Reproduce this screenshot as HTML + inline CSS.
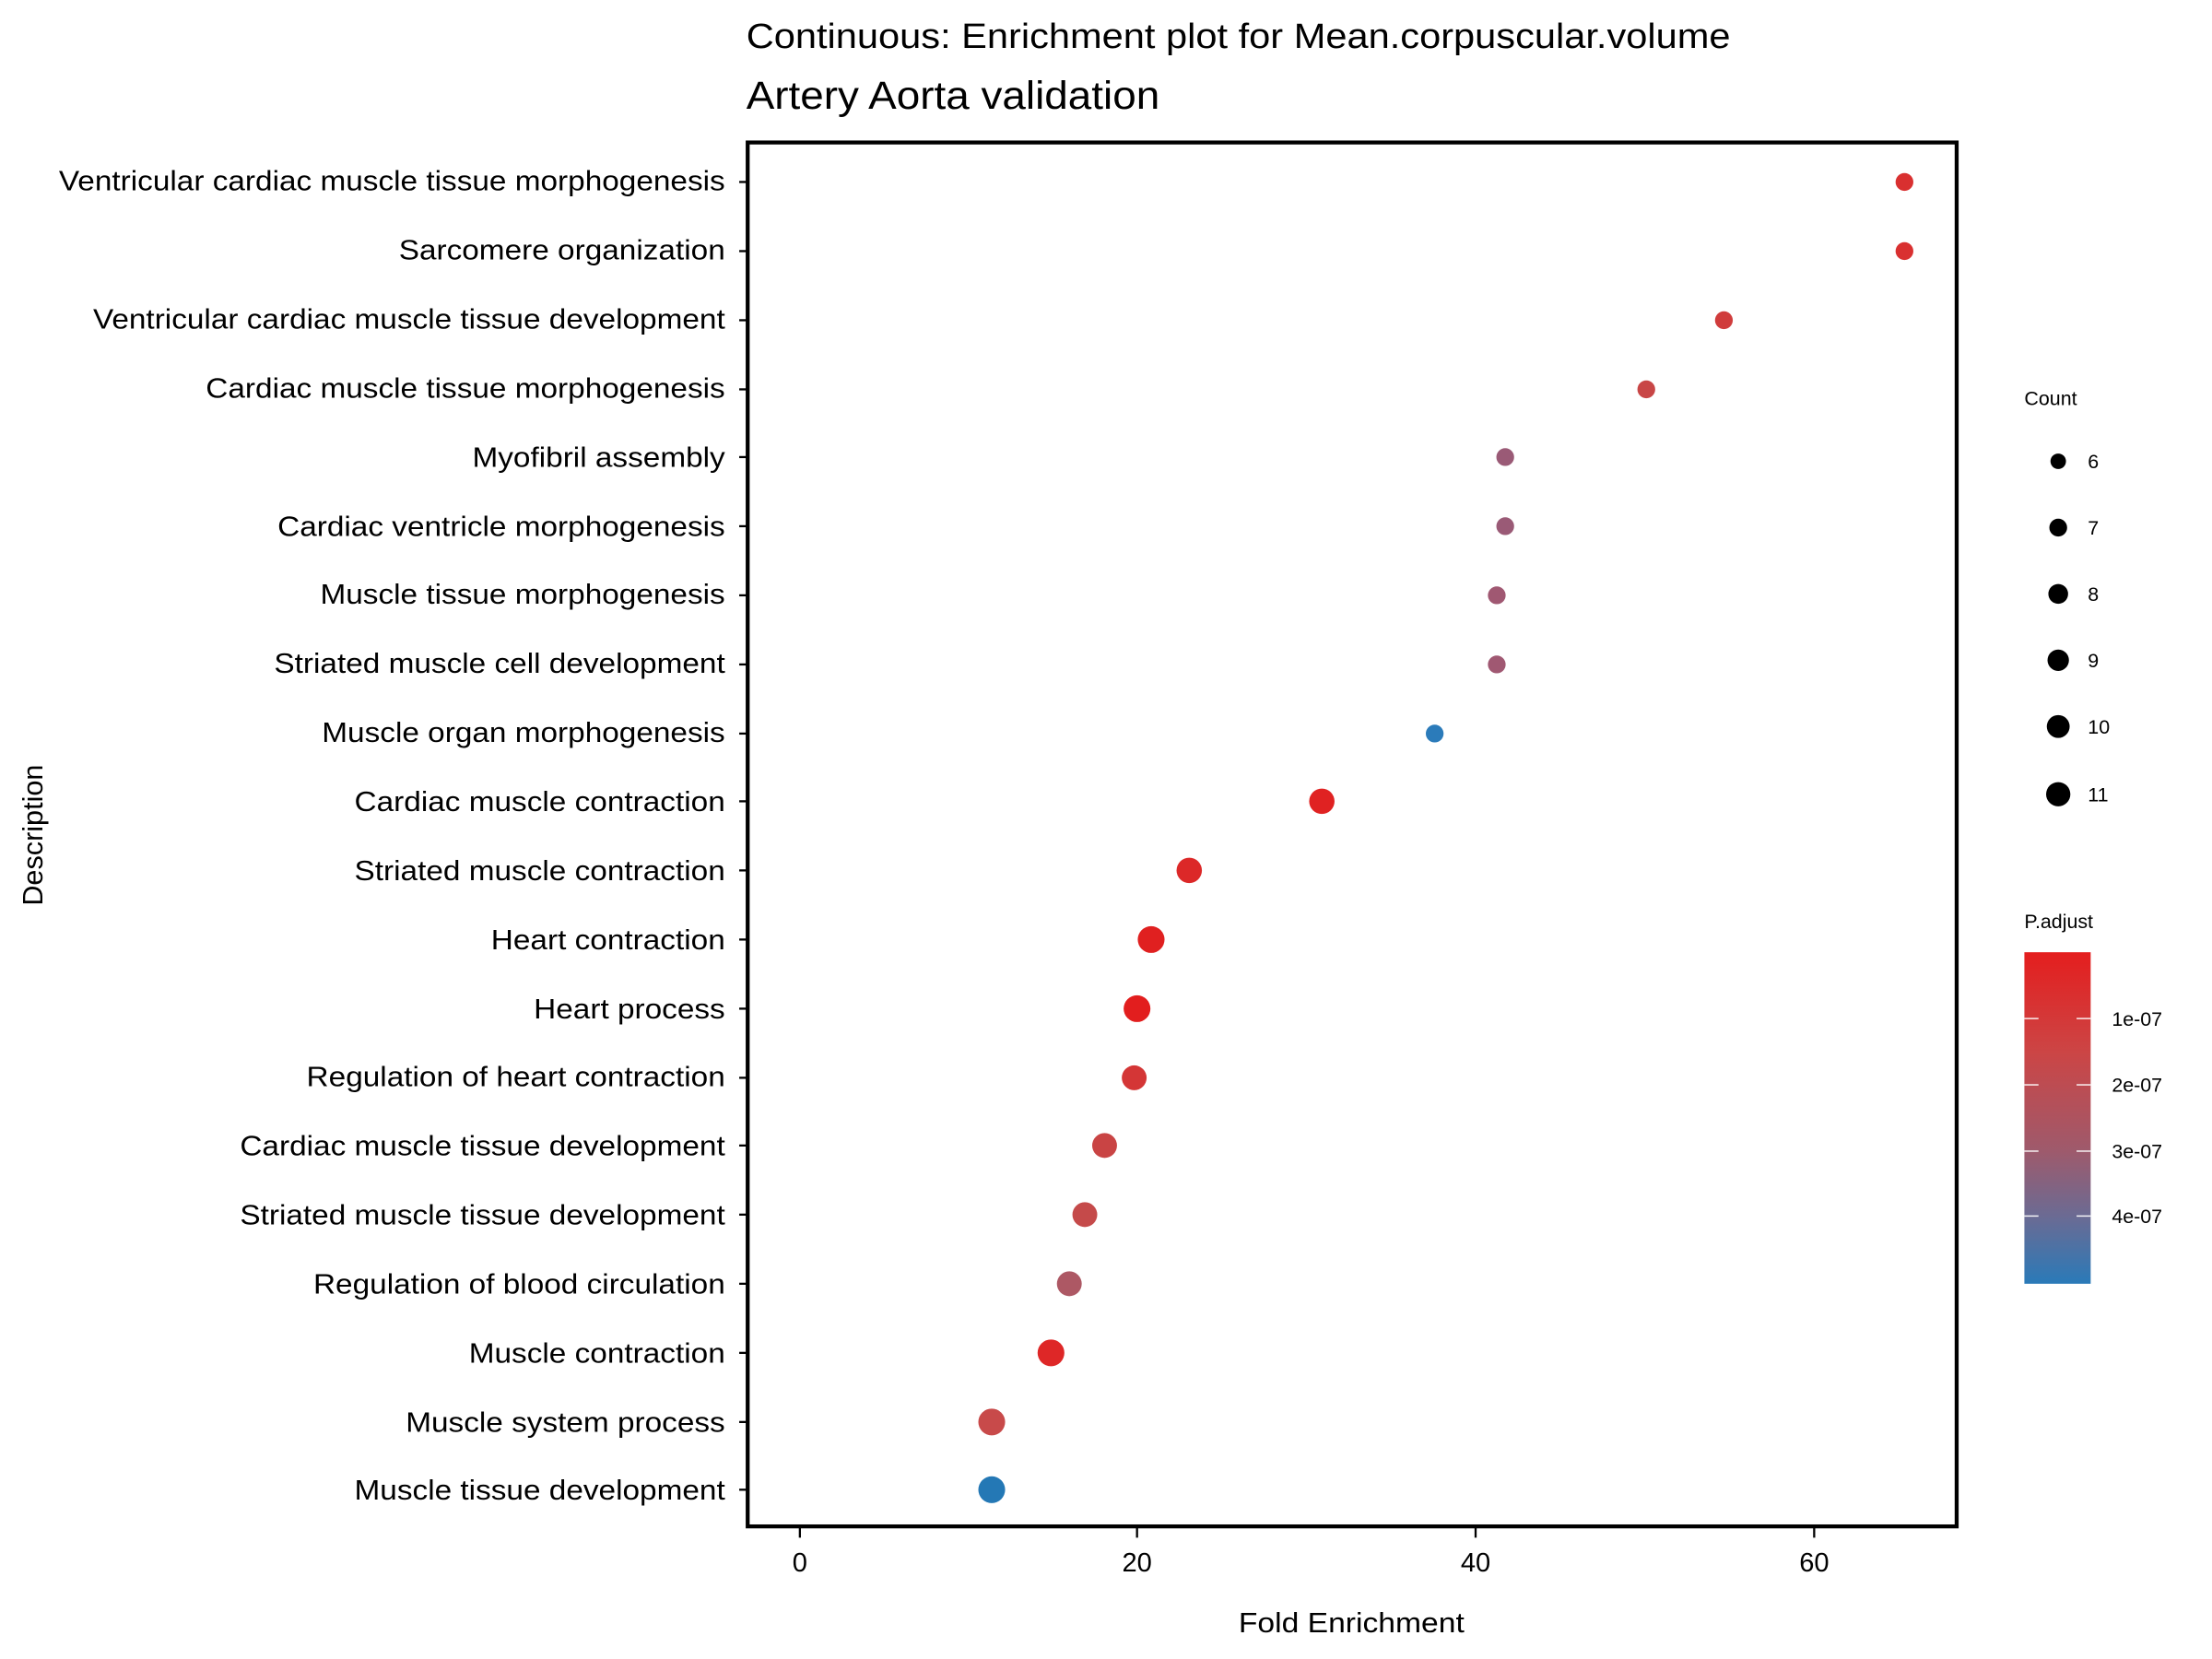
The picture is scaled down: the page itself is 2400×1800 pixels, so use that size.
<!DOCTYPE html>
<html><head><meta charset="utf-8"><style>
html,body{margin:0;padding:0;background:#fff}
svg{display:block}
text{font-family:"Liberation Sans",Arial,sans-serif;fill:#000}
</style></head><body>
<svg width="2400" height="1800" viewBox="0 0 1568 1176" preserveAspectRatio="none" xmlns="http://www.w3.org/2000/svg">
<defs>
<linearGradient id="g" x1="0" y1="0" x2="0" y2="1">
<stop offset="0" stop-color="#e41e1e"/>
<stop offset="0.3" stop-color="#cc4545"/>
<stop offset="0.6" stop-color="#9e5a6c"/>
<stop offset="0.8" stop-color="#6a6b94"/>
<stop offset="1" stop-color="#2a7ab8"/>
</linearGradient>
</defs>
<text transform="translate(529,34) scale(1.087,1)" font-size="25">Continuous: Enrichment plot for Mean.corpuscular.volume</text>
<text transform="translate(529,77) scale(1.07,1)" font-size="28">Artery Aorta validation</text>
<rect x="530" y="101" width="857" height="981" fill="#fff" stroke="#000" stroke-width="2.8"/>
<g font-size="20" text-anchor="end">
<text transform="translate(514,135) scale(1.09,1)">Ventricular cardiac muscle tissue morphogenesis</text>
<text transform="translate(514,184) scale(1.09,1)">Sarcomere organization</text>
<text transform="translate(514,233) scale(1.09,1)">Ventricular cardiac muscle tissue development</text>
<text transform="translate(514,282) scale(1.09,1)">Cardiac muscle tissue morphogenesis</text>
<text transform="translate(514,331) scale(1.09,1)">Myofibril assembly</text>
<text transform="translate(514,380) scale(1.09,1)">Cardiac ventricle morphogenesis</text>
<text transform="translate(514,428) scale(1.09,1)">Muscle tissue morphogenesis</text>
<text transform="translate(514,477) scale(1.09,1)">Striated muscle cell development</text>
<text transform="translate(514,526) scale(1.09,1)">Muscle organ morphogenesis</text>
<text transform="translate(514,575) scale(1.09,1)">Cardiac muscle contraction</text>
<text transform="translate(514,624) scale(1.09,1)">Striated muscle contraction</text>
<text transform="translate(514,673) scale(1.09,1)">Heart contraction</text>
<text transform="translate(514,722) scale(1.09,1)">Heart process</text>
<text transform="translate(514,770) scale(1.09,1)">Regulation of heart contraction</text>
<text transform="translate(514,819) scale(1.09,1)">Cardiac muscle tissue development</text>
<text transform="translate(514,868) scale(1.09,1)">Striated muscle tissue development</text>
<text transform="translate(514,917) scale(1.09,1)">Regulation of blood circulation</text>
<text transform="translate(514,966) scale(1.09,1)">Muscle contraction</text>
<text transform="translate(514,1015) scale(1.09,1)">Muscle system process</text>
<text transform="translate(514,1063) scale(1.09,1)">Muscle tissue development</text>
</g>
<g stroke="#000" stroke-width="1.5">
<line x1="524" x2="529" y1="129" y2="129"/><line x1="524" x2="529" y1="178" y2="178"/>
<line x1="524" x2="529" y1="227" y2="227"/><line x1="524" x2="529" y1="276" y2="276"/>
<line x1="524" x2="529" y1="324" y2="324"/><line x1="524" x2="529" y1="373" y2="373"/>
<line x1="524" x2="529" y1="422" y2="422"/><line x1="524" x2="529" y1="471" y2="471"/>
<line x1="524" x2="529" y1="520" y2="520"/><line x1="524" x2="529" y1="568" y2="568"/>
<line x1="524" x2="529" y1="617" y2="617"/><line x1="524" x2="529" y1="666" y2="666"/>
<line x1="524" x2="529" y1="715" y2="715"/><line x1="524" x2="529" y1="764" y2="764"/>
<line x1="524" x2="529" y1="812" y2="812"/><line x1="524" x2="529" y1="861" y2="861"/>
<line x1="524" x2="529" y1="910" y2="910"/><line x1="524" x2="529" y1="959" y2="959"/>
<line x1="524" x2="529" y1="1008" y2="1008"/><line x1="524" x2="529" y1="1056" y2="1056"/>
<line x1="567" x2="567" y1="1083" y2="1090"/><line x1="806" x2="806" y1="1083" y2="1090"/>
<line x1="1046" x2="1046" y1="1083" y2="1090"/><line x1="1286" x2="1286" y1="1083" y2="1090"/>
</g>
<g font-size="19" text-anchor="middle">
<text x="567" y="1114">0</text><text x="806" y="1114">20</text><text x="1046" y="1114">40</text><text x="1286" y="1114">60</text>
<text transform="translate(958,1157) scale(1.1,1)" font-size="20">Fold Enrichment</text>
</g>
<text transform="translate(30,592) rotate(-90)" font-size="20" text-anchor="middle">Description</text>
<g>
<circle cx="1350" cy="129" r="6.3" fill="#d93030"/>
<circle cx="1350" cy="178" r="6.3" fill="#d93030"/>
<circle cx="1222" cy="227" r="6.3" fill="#d03c3c"/>
<circle cx="1167" cy="276" r="6.3" fill="#c84646"/>
<circle cx="1067" cy="324" r="6.3" fill="#9a5a76"/>
<circle cx="1067" cy="373" r="6.3" fill="#9a5a76"/>
<circle cx="1061" cy="422" r="6.3" fill="#a05872"/>
<circle cx="1061" cy="471" r="6.3" fill="#a05872"/>
<circle cx="1017" cy="520" r="6.3" fill="#2b7bba"/>
<circle cx="937" cy="568" r="9" fill="#e02222"/>
<circle cx="843" cy="617" r="9" fill="#dc2828"/>
<circle cx="816" cy="666" r="9.5" fill="#e02020"/>
<circle cx="806" cy="715" r="9.5" fill="#e21e1e"/>
<circle cx="804" cy="764" r="8.8" fill="#d43636"/>
<circle cx="783" cy="812" r="8.8" fill="#c94444"/>
<circle cx="769" cy="861" r="8.8" fill="#c54a4a"/>
<circle cx="758" cy="910" r="8.8" fill="#ad5864"/>
<circle cx="745" cy="959" r="9.5" fill="#de2727"/>
<circle cx="703" cy="1008" r="9.5" fill="#c84a4a"/>
<circle cx="703" cy="1056" r="9.5" fill="#2478b5"/>
</g>
<text x="1435" y="287" font-size="14">Count</text>
<g fill="#000">
<circle cx="1459" cy="327" r="5.5"/><circle cx="1459" cy="374" r="6.3"/>
<circle cx="1459" cy="421" r="7"/><circle cx="1459" cy="468" r="7.6"/>
<circle cx="1459" cy="515" r="8.1"/><circle cx="1459" cy="563" r="8.6"/>
</g>
<g font-size="14">
<text x="1480" y="332">6</text><text x="1480" y="379">7</text><text x="1480" y="426">8</text>
<text x="1480" y="473">9</text><text x="1480" y="520">10</text><text x="1480" y="568">11</text>
</g>
<text x="1435" y="658" font-size="14">P.adjust</text>
<rect x="1435" y="675" width="47" height="235" fill="url(#g)"/>
<g stroke="#fff" stroke-width="1" opacity="0.9">
<line x1="1435" x2="1445" y1="722" y2="722"/><line x1="1472" x2="1482" y1="722" y2="722"/>
<line x1="1435" x2="1445" y1="769" y2="769"/><line x1="1472" x2="1482" y1="769" y2="769"/>
<line x1="1435" x2="1445" y1="816" y2="816"/><line x1="1472" x2="1482" y1="816" y2="816"/>
<line x1="1435" x2="1445" y1="862" y2="862"/><line x1="1472" x2="1482" y1="862" y2="862"/>
</g>
<g font-size="14">
<text x="1497" y="727">1e-07</text><text x="1497" y="774">2e-07</text>
<text x="1497" y="821">3e-07</text><text x="1497" y="867">4e-07</text>
</g>
</svg>
</body></html>
